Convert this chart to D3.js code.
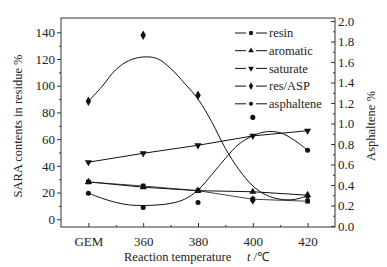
<!DOCTYPE html>
<html><head><meta charset="utf-8">
<script src="https://cdn.jsdelivr.net/npm/d3@7/dist/d3.min.js"></script>
<style>
html,body{margin:0;padding:0;background:#fff;}
svg{display:block;font-family:"Liberation Serif","Times New Roman",serif;}
</style></head>
<body>
<svg id="chart" width="387" height="267"></svg>
<script>
// ---- data ----
const categories = ["GEM", "360", "380", "400", "420"];
const resin      = [27.9, 24.9, 21.4, 15.0, 13.5];
const aromatic   = [28.0, 24.0, 21.4, 20.6, 18.0];
const saturate   = [42.7, 49.4, 55.4, 62.4, 66.3];
const resAsp     = [88.3, 137.8, 92.8, 14.5, 17.5];
const asphaltene = [0.32, 0.18, 0.23, 1.06, 0.74];
// fitted curves (x in category-index units)
const fitX       = [0, 0.25, 0.5, 0.75, 1, 1.25, 1.5, 1.75, 2, 2.25, 2.5, 2.75, 3, 3.25, 3.5, 3.75, 4];
const resAspFit  = [88.3, 99.5, 112, 119, 121.5, 120.4, 113, 102, 90, 73, 53, 37, 25, 18, 15, 14.8, 17.5];
const asphFit    = [0.32, 0.27, 0.23, 0.205, 0.2, 0.205, 0.22, 0.26, 0.35, 0.5, 0.66, 0.8, 0.88, 0.92, 0.91, 0.84, 0.74];
const leftTicks  = [0, 20, 40, 60, 80, 100, 120, 140];
const leftMinor  = [10, 30, 50, 70, 90, 110, 130];
const rightTicks = [0, 0.2, 0.4, 0.6, 0.8, 1.0, 1.2, 1.4, 1.6, 1.8, 2.0];
const rightMinor = [0.1, 0.3, 0.5, 0.7, 0.9, 1.1, 1.3, 1.5, 1.7, 1.9];
const xMinor     = [0.5, 1.5, 2.5, 3.5];
const legendNames = ["resin", "aromatic", "saturate", "res/ASP", "asphaltene"];

// ---- layout ----
const L = 61, R = 335, T = 18, B = 227;
const svg = d3.select("#chart");
const x = d3.scaleLinear().domain([-0.5, 4.5]).range([L, R]);
const yL = d3.scaleLinear().domain([-5.8, 150.7]).range([B, T]);
const yR = d3.scaleLinear().domain([-0.01, 2.03]).range([B, T]);
const ink = "#111";

// frame
svg.append("rect").attr("x", L).attr("y", T).attr("width", R - L).attr("height", B - T)
  .attr("fill", "none").attr("stroke", "#333").attr("stroke-width", 1);

// left axis
svg.append("g").attr("transform", `translate(${L},0)`)
  .call(d3.axisLeft(yL).tickValues(leftTicks).tickSize(4).tickPadding(2).tickFormat(d3.format("d")));
svg.append("g").attr("transform", `translate(${L},0)`)
  .call(d3.axisLeft(yL).tickValues(leftMinor).tickSize(2).tickFormat(""));
// right axis (ticks inward)
const gR = svg.append("g").attr("transform", `translate(${R},0)`)
  .call(d3.axisLeft(yR).tickValues(rightTicks).tickSize(4).tickFormat(d3.format(".1f")));
gR.selectAll("text").attr("x", 3).attr("text-anchor", "start");
svg.append("g").attr("transform", `translate(${R},0)`)
  .call(d3.axisLeft(yR).tickValues(rightMinor).tickSize(2).tickFormat(""));
// bottom axis (ticks inward)
const gB = svg.append("g").attr("transform", `translate(0,${B})`)
  .call(d3.axisTop(x).tickValues([0, 1, 2, 3, 4]).tickSize(4).tickFormat(i => categories[i]));
gB.selectAll("text").attr("y", 10).attr("dy", "0.71em");
svg.append("g").attr("transform", `translate(0,${B})`)
  .call(d3.axisTop(x).tickValues(xMinor).tickSize(2).tickFormat(""));

svg.selectAll(".domain").remove();
svg.selectAll(".tick line").attr("stroke", "#333");
svg.selectAll(".tick text").attr("font-size", 13).attr("fill", "#222")
  .attr("font-family", "Liberation Serif, serif");

// ---- series ----
const sym = {
  square: d3.symbol().type(d3.symbolSquare).size(22),
  up: d3.symbol().type(d3.symbolTriangle).size(22),
  diamond: d3.symbol().type(d3.symbolDiamond).size(26),
  circle: d3.symbol().type(d3.symbolCircle).size(20)
};
function marker(g, type, cx, cy, k) {
  const s = k || 1;
  const p = g.append("path").attr("fill", ink);
  if (type === "down") {
    p.attr("d", sym.up()).attr("transform", `translate(${cx},${cy}) rotate(180) scale(${s})`);
  } else {
    p.attr("d", sym[type]()).attr("transform", `translate(${cx},${cy}) scale(${s})`);
  }
}
const straight = d3.line().x((d, i) => x(i));
const smooth = d3.line().curve(d3.curveCatmullRom.alpha(0.5));

function lineSeries(vals, scale, type, color) {
  svg.append("path").attr("fill", "none").attr("stroke", color).attr("stroke-width", 1)
    .attr("d", straight.y(d => scale(d))(vals));
  const g = svg.append("g");
  vals.forEach((v, i) => marker(g, type, x(i), scale(v)));
}
function fitSeries(fitVals, pts, scale, type) {
  svg.append("path").attr("fill", "none").attr("stroke", ink).attr("stroke-width", 1)
    .attr("d", smooth(fitX.map((fx, i) => [x(fx), scale(fitVals[i])])));
  const g = svg.append("g");
  pts.forEach((v, i) => marker(g, type, x(i), scale(v)));
}

lineSeries(resin, yL, "square", "#444");
lineSeries(aromatic, yL, "up", ink);
lineSeries(saturate, yL, "down", ink);
fitSeries(resAspFit, resAsp, yL, "diamond");
fitSeries(asphFit, asphaltene, yR, "circle");

// ---- legend ----
const legTypes = ["square", "up", "down", "diamond", "circle"];
const lg = svg.append("g");
legendNames.forEach((name, i) => {
  const ly = 33 + i * 17.7;
  lg.append("line").attr("x1", 235).attr("x2", 246).attr("y1", ly).attr("y2", ly)
    .attr("stroke", ink).attr("stroke-width", 1);
  lg.append("line").attr("x1", 256).attr("x2", 267).attr("y1", ly).attr("y2", ly)
    .attr("stroke", ink).attr("stroke-width", 1);
  marker(lg, legTypes[i], 251, ly, 0.8);
  lg.append("text").attr("x", 269).attr("y", ly).attr("dy", "0.35em")
    .attr("font-size", 12.5).attr("fill", "#222").text(name);
});

// ---- titles ----
svg.append("text").attr("transform", "translate(22,126) rotate(-90)")
  .attr("text-anchor", "middle").attr("font-size", 12.5).attr("fill", "#222")
  .text("SARA contents in residue %");
svg.append("text").attr("transform", "translate(375,126) rotate(-90)")
  .attr("text-anchor", "middle").attr("font-size", 12.5).attr("fill", "#222")
  .text("Asphaltene %");
const xt = svg.append("text").attr("x", 124).attr("y", 261).attr("font-size", 12.5).attr("fill", "#222");
xt.append("tspan").text("Reaction temperature");
xt.append("tspan").attr("x", 247).attr("font-style", "italic").text("t");
xt.append("tspan").text(" /℃");
</script>
</body></html>
